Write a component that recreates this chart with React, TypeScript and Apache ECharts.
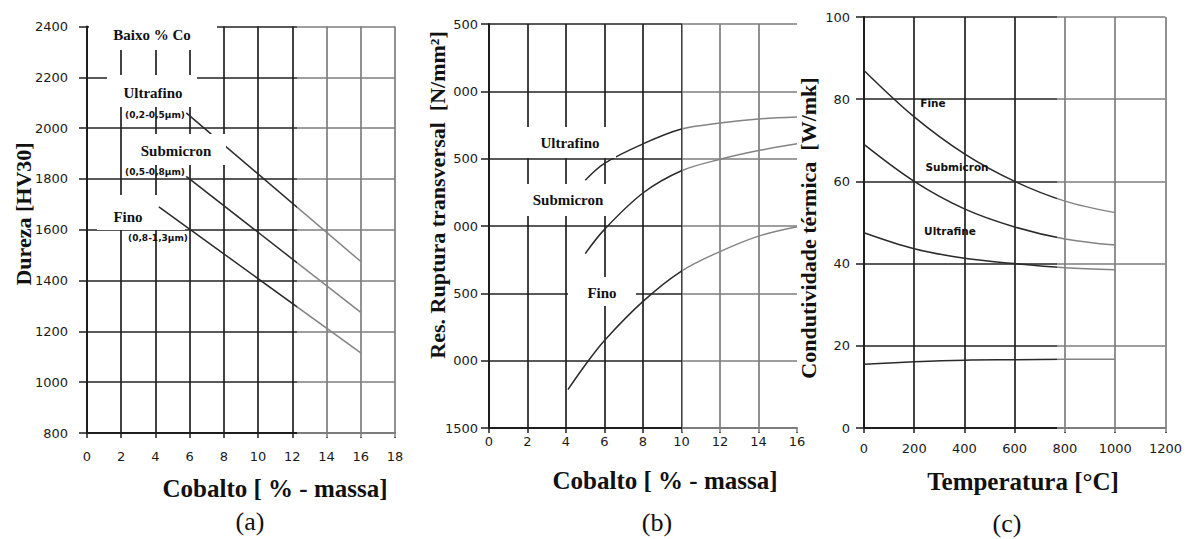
import React, { useEffect, useRef } from "react";
import * as echarts from "echarts";

// ---------- Panel (a): Dureza vs Cobalto ----------
const hardnessUltrafino = [[5.8, 2060], [16, 1475]];
const hardnessSubmicron = [[5.8, 1810], [16, 1275]];
const hardnessFino = [[4.2, 1690], [16, 1115]];

// ---------- Panel (b): Res. Ruptura transversal vs Cobalto ----------
const trsUltrafino = [[5, 3340], [6, 3465], [8, 3610], [10, 3720], [12, 3765], [14, 3795], [16, 3810]];
const trsSubmicron = [[5, 2795], [6, 2975], [8, 3245], [10, 3410], [12, 3495], [14, 3560], [16, 3610]];
const trsFino = [[4.1, 1785], [5, 1968], [6, 2150], [8, 2440], [10, 2665], [12, 2810], [14, 2925], [16, 2995]];

// ---------- Panel (c): Condutividade térmica vs Temperatura ----------
const temps = [0, 200, 400, 600, 800, 1000];
const condFine = [87, 75.7, 66.7, 60, 55.2, 52.4];
const condSubmicron = [69, 60, 53.3, 48.9, 46, 44.5];
const condUltrafine = [47.5, 43.6, 41.3, 40, 39, 38.5];
const condLower = [15.5, 16.1, 16.5, 16.6, 16.7, 16.7];

const SERIF = '"Liberation Serif", "Times New Roman", serif';
const SANS = '"DejaVu Sans", sans-serif';
const INK = "#1e1e1e";

const pair = (xs: number[], ys: number[]) => xs.map((x, i) => [x, ys[i]]);
const plain = (v: number) => String(v);

function axisX(gridIndex: number, min: number, max: number, interval: number, margin: number, showMax = true) {
  return {
    type: "value", gridIndex, min, max, interval,
    axisLine: { show: true, onZero: false, lineStyle: { color: INK, width: 2 } },
    axisTick: { show: true, inside: false, length: 5, lineStyle: { color: INK, width: 1.5 } },
    axisLabel: { margin, color: "#1a1a1a", fontFamily: SANS, fontSize: 13, formatter: plain },
    splitLine: { show: true, showMaxLine: showMax, lineStyle: { color: "#222", width: 1.7 } },
  };
}
function axisY(gridIndex: number, min: number, max: number, interval: number, margin: number, formatter: any = plain) {
  return {
    type: "value", gridIndex, min, max, interval,
    axisLine: { show: true, onZero: false, lineStyle: { color: INK, width: 2 } },
    axisTick: { show: true, inside: false, length: 8, lineStyle: { color: INK, width: 1.5 } },
    axisLabel: { margin, color: "#1a1a1a", fontFamily: SANS, fontSize: 13, formatter },
    splitLine: { show: true, lineStyle: { color: "#222", width: 1.7 } },
  };
}
function line(name: string, xi: number, data: any[], smooth: boolean | number) {
  return {
    name, type: "line", xAxisIndex: xi, yAxisIndex: xi, data, smooth,
    symbol: "none", lineStyle: { color: "#2a2a2a", width: 1.5 }, z: 2, silent: true,
  };
}
function box(x: number, y: number, w: number, h: number, z = 10) {
  return { type: "rect", z, shape: { x, y, width: w, height: h }, style: { fill: "#ffffff" }, silent: true };
}
function txt(text: string, x: number, y: number, font: string, z = 11, rotation = 0) {
  return {
    type: "text", z, x, y, rotation, silent: true,
    style: { text, x: 0, y: 0, font, fill: "#111", align: "center", verticalAlign: "middle" },
  };
}
function fade(x: number, y: number, w: number, h: number) {
  return { type: "rect", z: 5, shape: { x, y, width: w, height: h }, style: { fill: "rgba(255,255,255,0.42)" }, silent: true };
}

export default function App() {
  const ref = useRef<HTMLDivElement>(null);
  useEffect(() => {
    document.body.style.margin = "0";
    const chart = echarts.init(ref.current!, null, { renderer: "svg" });
    const titleB = `bold 22px ${SERIF}`;
    const xTitle = `bold 25px ${SERIF}`;
    const lbl = `bold 15px ${SERIF}`;
    const small = `bold 9px ${SANS}`;
    const lblC = `bold 10.5px ${SANS}`;
    chart.setOption({
      animation: false,
      backgroundColor: "#ffffff",
      grid: [
        { left: 87, top: 26.5, width: 308, height: 406.5 },
        { left: 489, top: 24, width: 308, height: 404 },
        { left: 864, top: 17, width: 305, height: 411 },
      ],
      xAxis: [
        axisX(0, 0, 18, 2, 17),
        axisX(1, 0, 16, 2, 7, false),
        axisX(2, 0, 1200, 200, 14),
      ],
      yAxis: [
        axisY(0, 800, 2400, 200, 19),
        axisY(1, 1500, 4500, 500, 11, (v: number) => (v === 1500 ? "1500" : String(v).slice(1))),
        axisY(2, 0, 100, 20, 14),
      ],
      series: [
        line("Ultrafino", 0, hardnessUltrafino, false),
        line("Submicron", 0, hardnessSubmicron, false),
        line("Fino", 0, hardnessFino, false),
        line("Ultrafino", 1, trsUltrafino, 0.35),
        line("Submicron", 1, trsSubmicron, 0.35),
        line("Fino", 1, trsFino, 0.35),
        line("Fine", 2, pair(temps, condFine), 0.35),
        line("Submicron", 2, pair(temps, condSubmicron), 0.35),
        line("Ultrafine", 2, pair(temps, condUltrafine), 0.35),
        line("Lower", 2, pair(temps, condLower), 0.35),
      ],
      graphic: {
        elements: [
          // scan-faded right parts
          fade(297, 20, 103, 417),
          fade(682, 18, 118, 414),
          fade(1057, 12, 116, 420),
          // panel (a) label boxes
          box(89, 20, 128, 30),
          txt("Baixo % Co", 152, 35, lbl),
          box(107, 75, 90, 32),
          txt("Ultrafino", 153, 93, lbl),
          txt("(0,2-0,5µm)", 155, 115, small),
          box(135, 134, 91, 31),
          txt("Submicron", 176, 151, lbl),
          txt("(0,5-0,8µm)", 155, 172, small),
          box(97, 195, 88, 35, 1),
          txt("Fino", 128, 217, lbl),
          txt("(0,8-1,3µm)", 158, 238, small),
          // panel (b) label boxes
          box(522, 127, 94, 31),
          txt("Ultrafino", 570, 143, lbl),
          box(520, 184, 92, 32),
          txt("Submicron", 568, 200, lbl),
          box(568, 277, 68, 29),
          txt("Fino", 602, 293, lbl),
          // panel (c) labels
          txt("Fine", 933, 103, lblC),
          txt("Submicron", 957, 167, lblC),
          txt("Ultrafine", 950, 231, lblC),
          // axis titles
          txt("Dureza [HV30]", 23, 214, titleB, 11, Math.PI / 2),
          txt("Res. Ruptura transversal  [N/mm²]", 437, 195, titleB, 11, Math.PI / 2),
          txt("Condutividade térmica  [W/mk]", 808, 228, titleB, 11, Math.PI / 2),
          txt("Cobalto [ % - massa]", 275, 488, xTitle),
          txt("Cobalto [ % - massa]", 665, 480, xTitle),
          txt("Temperatura [°C]", 1023, 481, xTitle),
          txt("(a)", 250, 521, `26px ${SERIF}`),
          txt("(b)", 657, 522, `26px ${SERIF}`),
          txt("(c)", 1007, 523, `26px ${SERIF}`),
        ],
      },
    });
    return () => chart.dispose();
  }, []);
  return <div ref={ref} style={{ position: "fixed", left: 0, top: 0, width: 1185, height: 539 }} />;
}
